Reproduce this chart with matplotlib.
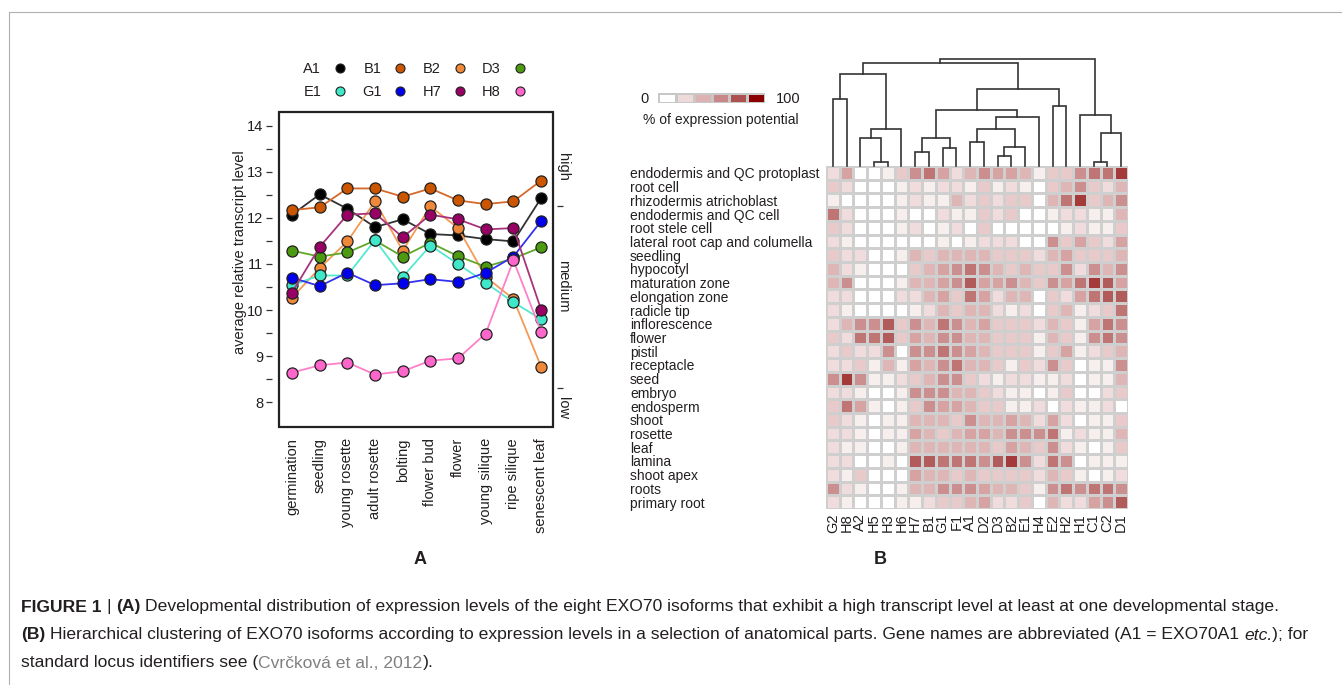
import numpy as np
import matplotlib
matplotlib.use('Agg')
import matplotlib.pyplot as plt
from matplotlib.colors import LinearSegmentedColormap
from matplotlib.patches import Rectangle
from matplotlib.lines import Line2D
from matplotlib.transforms import blended_transform_factory

plt.rcParams['font.family'] = ['Liberation Sans', 'DejaVu Sans']

W, H = 1342, 685

# ---- panel A data -------------------------------------------------------
stages = ['germination', 'seedling', 'young rosette', 'adult rosette', 'bolting',
          'flower bud', 'flower', 'young silique', 'ripe silique', 'senescent leaf']

A1 = [12.07, 12.51, 12.20, 11.80, 11.97, 11.65, 11.62, 11.54, 11.49, 12.43]
B1 = [12.17, 12.23, 12.64, 12.64, 12.46, 12.64, 12.38, 12.30, 12.36, 12.81]
B2 = [10.27, 10.91, 11.49, 12.36, 11.29, 12.25, 11.78, 10.72, 10.24, 8.77]
D3 = [11.29, 11.16, 11.25, 11.51, 11.16, 11.46, 11.17, 10.94, 11.12, 11.36]
E1 = [10.54, 10.75, 10.75, 11.52, 10.72, 11.40, 11.00, 10.59, 10.17, 9.80]
G1 = [10.70, 10.52, 10.81, 10.54, 10.58, 10.67, 10.61, 10.81, 11.16, 11.93]
H7 = [10.38, 11.37, 12.07, 12.10, 11.58, 12.07, 11.97, 11.75, 11.78, 10.01]
H8 = [8.64, 8.80, 8.86, 8.60, 8.67, 8.90, 8.95, 9.49, 11.08, 9.53]

series_names = ['A1', 'B1', 'B2', 'D3', 'E1', 'G1', 'H7', 'H8']
series_vals = [A1, B1, B2, D3, E1, G1, H7, H8]
marker_cols = ['#000000', '#CC5500', '#F0883A', '#4C9A10', '#3FE8C8', '#0000EE', '#990066', '#FF66CC']
line_cols = ['#333333', '#D4692A', '#F59A55', '#5FA82A', '#55E8D0', '#3333EE', '#A8337A', '#FF7FC8']

level_ticks = [12.25, 8.3]
level_names = ['high', 'medium', 'low']
level_pos = [13.1, 10.52, 7.87]

# ---- panel B data -------------------------------------------------------
isoform_cols = ['G2', 'H8', 'A2', 'H5', 'H3', 'H6', 'H7', 'B1', 'G1', 'F1', 'A1',
                'D2', 'D3', 'B2', 'E1', 'H4', 'E2', 'H2', 'H1', 'C1', 'C2', 'D1']
parts = ['endodermis and QC protoplast', 'root cell', 'rhizodermis atrichoblast',
         'endodermis and QC cell', 'root stele cell', 'lateral root cap and columella',
         'seedling', 'hypocotyl', 'maturation zone', 'elongation zone', 'radicle tip',
         'inflorescence', 'flower', 'pistil', 'receptacle', 'seed', 'embryo', 'endosperm',
         'shoot', 'rosette', 'leaf', 'lamina', 'shoot apex', 'roots', 'primary root']

# expression potential on a 0-10 scale
heat = [
    [2, 5, 0, 0, 1, 3, 6, 7, 5, 2, 4, 6, 5, 5, 4, 1, 3, 3, 6, 7, 7, 9],
    [3, 2, 0, 0, 0, 1, 2, 1, 2, 2, 1, 3, 1, 2, 1, 0, 3, 4, 6, 3, 2, 4],
    [1, 0, 0, 0, 0, 1, 2, 1, 1, 4, 2, 3, 2, 3, 3, 0, 4, 7, 9, 3, 4, 6],
    [7, 2, 0, 0, 0, 1, 0, 0, 2, 1, 1, 3, 2, 3, 0, 0, 1, 2, 2, 1, 1, 4],
    [3, 2, 0, 0, 0, 1, 2, 0, 1, 2, 0, 3, 0, 0, 0, 0, 0, 1, 2, 1, 1, 3],
    [2, 1, 0, 0, 0, 0, 0, 0, 1, 0, 1, 2, 2, 2, 0, 0, 6, 3, 5, 3, 2, 5],
    [3, 2, 2, 0, 0, 1, 4, 3, 4, 4, 4, 4, 3, 3, 3, 2, 4, 5, 3, 3, 3, 4],
    [4, 2, 1, 0, 0, 0, 3, 4, 5, 6, 7, 6, 4, 3, 4, 3, 3, 6, 2, 6, 4, 6],
    [4, 6, 0, 0, 0, 1, 4, 4, 5, 6, 8, 5, 5, 6, 4, 3, 6, 5, 7, 9, 8, 5],
    [2, 2, 0, 0, 0, 2, 2, 4, 5, 3, 7, 5, 2, 4, 4, 0, 3, 2, 5, 7, 8, 8],
    [2, 1, 0, 0, 0, 0, 1, 2, 4, 3, 4, 4, 2, 1, 2, 0, 3, 4, 1, 2, 3, 7],
    [2, 4, 6, 6, 8, 3, 6, 4, 7, 6, 4, 5, 3, 3, 3, 2, 4, 3, 1, 5, 7, 6],
    [3, 2, 7, 7, 8, 3, 5, 4, 6, 6, 4, 4, 3, 3, 3, 1, 4, 3, 1, 6, 7, 6],
    [2, 3, 2, 2, 6, 0, 6, 6, 7, 6, 5, 4, 3, 3, 3, 1, 3, 5, 1, 2, 3, 4],
    [2, 2, 3, 1, 4, 1, 5, 4, 6, 7, 4, 4, 3, 1, 3, 2, 6, 3, 0, 1, 1, 6],
    [6, 9, 6, 1, 1, 2, 3, 4, 6, 6, 3, 2, 1, 2, 2, 1, 1, 2, 0, 1, 1, 4],
    [2, 2, 1, 0, 0, 1, 6, 6, 6, 4, 4, 3, 2, 1, 1, 0, 1, 3, 0, 0, 2, 3],
    [3, 7, 5, 1, 0, 1, 3, 6, 5, 5, 4, 3, 3, 1, 1, 2, 0, 2, 1, 1, 2, 0],
    [3, 2, 1, 0, 1, 1, 4, 4, 4, 3, 6, 4, 4, 5, 4, 2, 5, 2, 0, 1, 1, 3],
    [2, 2, 1, 0, 1, 1, 5, 4, 3, 4, 5, 5, 4, 6, 6, 6, 7, 1, 2, 1, 1, 4],
    [2, 1, 1, 0, 0, 1, 4, 4, 4, 4, 4, 4, 3, 5, 4, 3, 6, 2, 1, 0, 1, 3],
    [2, 2, 0, 0, 1, 0, 8, 8, 7, 7, 7, 6, 8, 9, 6, 2, 7, 6, 0, 1, 1, 1],
    [2, 1, 3, 0, 0, 0, 5, 4, 4, 3, 4, 3, 3, 3, 3, 2, 4, 3, 1, 0, 1, 2],
    [6, 2, 1, 0, 0, 1, 4, 4, 6, 6, 6, 5, 4, 4, 3, 1, 6, 7, 6, 7, 7, 6],
    [2, 1, 0, 0, 0, 1, 1, 2, 3, 3, 4, 5, 2, 2, 3, 0, 4, 2, 2, 5, 6, 8],
]

# dendrogram merges: (left, right, height); ints point at earlier merges
merges = [
    ('G2', 'H8', 67), ('H5', 'H3', 4), ('A2', 1, 28), (2, 'H6', 37), (0, 3, 92),
    ('H7', 'B1', 14), ('G1', 'F1', 18), (5, 6, 28), ('A1', 'D2', 24), ('D3', 'B2', 10),
    (9, 'E1', 19), (8, 10, 37), (11, 'H4', 49), (7, 12, 56), ('E2', 'H2', 60),
    (13, 14, 77), (4, 15, 103), ('C1', 'C2', 4), (17, 'D1', 33), ('H1', 18, 51),
    (16, 19, 107),
]

legend_levels = [0, 20, 40, 60, 80, 100]
cmap = LinearSegmentedColormap.from_list(
    'expr', ['#FFFFFF', '#EFDADA', '#DDB2B2', '#C98888', '#AD5050', '#8B0000'])

TXT = '#231F20'


def box(x0, y0, x1, y1):
    return [x0 / W, 1 - y1 / H, (x1 - x0) / W, (y1 - y0) / H]


def fy(py):
    return 1 - py / H


fig = plt.figure(figsize=(W / 100, H / 100), dpi=100)

# ---- panel A ------------------------------------------------------------
ax = fig.add_axes(box(279, 112, 553, 427))
xs = np.arange(len(stages))
handles = []
for name, vals, mc, lc in zip(series_names, series_vals, marker_cols, line_cols):
    ax.plot(xs, vals, '-', color=lc, lw=1.3, marker='o', ms=8,
            mfc=mc, mec='#222222', mew=0.9, zorder=3)
    handles.append(Line2D([], [], ls='none', marker='o', ms=6.5, mfc=mc,
                          mec='#222222', mew=0.8, label=name))
ax.set_xlim(-0.47, 9.43)
ax.set_ylim(7.46, 14.30)
ax.set_yticks(range(8, 15))
ax.set_yticks(np.arange(8.5, 14, 1), minor=True)
ax.set_xticks(xs, stages, rotation=90)
for s in ax.spines.values():
    s.set_visible(False)
ax.spines['left'].set_position(('outward', 5))
ax.tick_params(axis='y', which='both', direction='out', length=4.5, width=0.9,
               pad=2, labelsize=10.5, colors='#333333', labelcolor=TXT)
ax.tick_params(axis='x', length=0, pad=8, labelsize=10.5, labelcolor=TXT)
ax.add_patch(Rectangle((0, 0), 1, 1, transform=ax.transAxes, fill=False,
                       lw=1.6, ec='#222222', clip_on=False, zorder=5))
ax.set_ylabel('average relative transcript level', fontsize=10.5, color=TXT)
ax.yaxis.set_label_coords(-0.115, 0.556)

ax2 = ax.twinx()
ax2.set_ylim(ax.get_ylim())
ax2.set_yticks(level_ticks)
ax2.set_yticklabels([])
for s in ax2.spines.values():
    s.set_visible(False)
ax2.spines['right'].set_position(('outward', 3))
ax2.tick_params(axis='y', direction='out', length=4, width=0.9, colors='#333333')
tr = blended_transform_factory(ax.transAxes, ax.transData)
for lab, pos in zip(level_names, level_pos):
    ax.text(1.038, pos, lab, transform=tr, rotation=-90, ha='center', va='center',
            fontsize=10.5, color=TXT)

order = [0, 4, 1, 5, 2, 6, 3, 7]
fig.legend([handles[i] for i in order], [series_names[i] for i in order],
           loc='upper left', bbox_to_anchor=(296 / W, fy(55)), ncol=4,
           markerfirst=False, frameon=False, fontsize=10.5, handlelength=1.0,
           handletextpad=0.8, columnspacing=1.0, labelspacing=0.6, borderpad=0,
           labelcolor=TXT)

fig.text(420 / W, fy(560), 'A', fontsize=13, fontweight='bold', ha='center',
         va='center', color=TXT)

# ---- panel B: heatmap ---------------------------------------------------
hm = fig.add_axes(box(826, 166, 1128, 509))
hm.pcolormesh(np.array(heat) * 9.5, cmap=cmap, vmin=0, vmax=100,
              edgecolors='#CFCFCF', linewidth=0.8)
hm.set_xlim(0, len(isoform_cols))
hm.set_ylim(len(parts), 0)
hm.set_xticks(np.arange(len(isoform_cols)) + 0.5, isoform_cols, rotation=90)
hm.set_yticks(np.arange(len(parts)) + 0.5, parts)
for lab in hm.get_yticklabels():
    lab.set_horizontalalignment('left')
hm.tick_params(axis='y', length=0, pad=(826 - 630) * 0.72, labelsize=10,
               labelcolor=TXT)
hm.tick_params(axis='x', length=0, pad=3, labelsize=10.5, labelcolor=TXT)
for s in hm.spines.values():
    s.set_visible(False)

# ---- panel B: dendrogram ------------------------------------------------
dg = fig.add_axes(box(826, 56, 1128, 166))
dg.set_xlim(0, len(isoform_cols))
dg.set_ylim(0, 110)
dg.axis('off')
pos = {n: i + 0.5 for i, n in enumerate(isoform_cols)}
hgt = {n: 0 for n in isoform_cols}
for k, (l, r, h) in enumerate(merges):
    xl, xr = pos[l], pos[r]
    dg.plot([xl, xl, xr, xr], [hgt[l], h, h, hgt[r]], color='#333333', lw=1.2,
            solid_joinstyle='miter', clip_on=False)
    pos[k] = (xl + xr) / 2
    hgt[k] = h

# ---- panel B: colour key ------------------------------------------------
cl = fig.add_axes(box(658, 93, 765, 103))
cl.pcolormesh([legend_levels], cmap=cmap, vmin=0, vmax=100,
              edgecolors='#C8C8C8', linewidth=0.8)
cl.axis('off')
fig.text(640 / W, fy(99), '0', fontsize=10.5, va='center', color=TXT)
fig.text(776 / W, fy(99), '100', fontsize=10.5, va='center', color=TXT)
fig.text(643 / W, fy(120), '% of expression potential', fontsize=10, va='center',
         color=TXT)

fig.text(880 / W, fy(560), 'B', fontsize=13, fontweight='bold', ha='center',
         va='center', color=TXT)

# ---- frame --------------------------------------------------------------
fig.add_artist(Line2D([9 / W, 1], [fy(12), fy(12)], color='#B0B0B0', lw=0.8))
fig.add_artist(Line2D([9 / W, 9 / W], [fy(12), 0], color='#B0B0B0', lw=0.8))

# ---- caption ------------------------------------------------------------
renderer = fig.canvas.get_renderer()
CAP = 12.6


def text_width(s, kw):
    t = fig.text(0, 0, s, fontsize=CAP, **kw)
    w = t.get_window_extent(renderer).width
    t.remove()
    return w


def draw_runs(x, y, runs):
    for txt, kw in runs:
        sw = text_width('x x', kw) - text_width('xx', kw)
        lead = len(txt) - len(txt.lstrip(' '))
        trail = len(txt) - len(txt.rstrip(' '))
        x += lead * sw
        t = fig.text(x / W, fy(y), txt.strip(' '), fontsize=CAP, va='center', **kw)
        x += t.get_window_extent(renderer).width + trail * sw


bold = dict(fontweight='bold', color=TXT)
norm = dict(color=TXT)
ital = dict(style='italic', color=TXT)
grey = dict(color='#808080')

draw_runs(21, 607, [('FIGURE 1', bold), (' | ', norm), ('(A)', bold),
                    (' Developmental distribution of expression levels of the eight EXO70 '
                     'isoforms that exhibit a high transcript level at least at one '
                     'developmental stage.', norm)])
draw_runs(21, 635, [('(B)', bold),
                    (' Hierarchical clustering of EXO70 isoforms according to expression '
                     'levels in a selection of anatomical parts. Gene names are abbreviated '
                     '(A1 = EXO70A1 ', norm), ('etc.', ital), ('); for', norm)])
draw_runs(21, 663, [('standard locus identifiers see (', norm),
                    ('Cvrčková et al., 2012', grey), (').', norm)])

fig.savefig('out.png', dpi=100)
